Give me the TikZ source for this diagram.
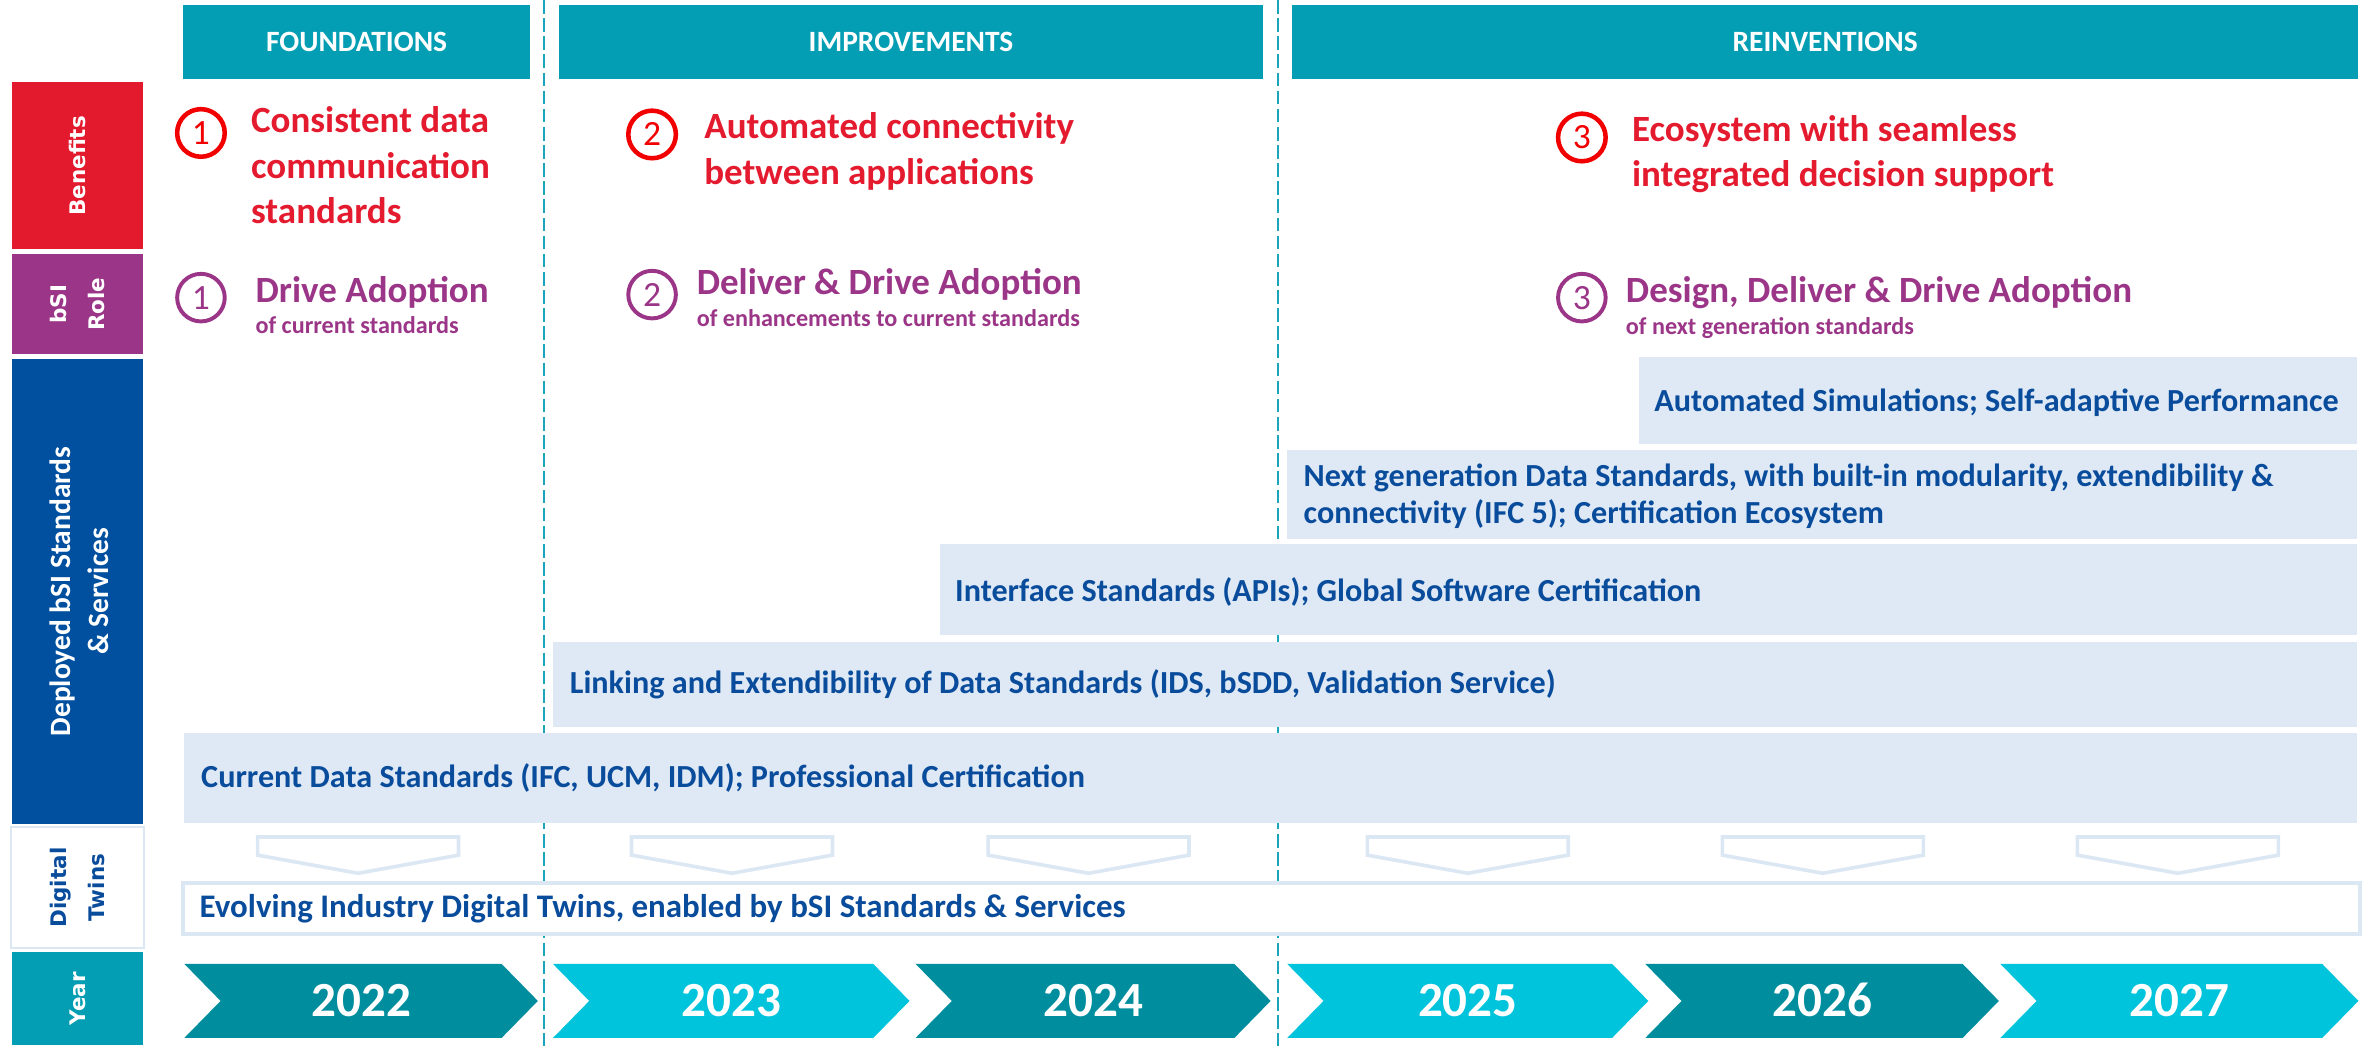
\documentclass[tikz,border=0pt]{standalone}
\usepackage{fontspec}
\setmainfont{Carlito}
\newfontfamily\dejavu{DejaVu Sans}
\definecolor{hdrteal}{HTML}{039EB3}
\definecolor{yeardark}{HTML}{008E9E}
\definecolor{yearlight}{HTML}{00C4DC}
\definecolor{redbox}{HTML}{E3192D}
\definecolor{redtxt}{HTML}{E41B2F}
\definecolor{circred}{HTML}{F20000}
\definecolor{purp}{HTML}{9B3587}
\definecolor{bluebox}{HTML}{00509F}
\definecolor{txtblue}{HTML}{0A4C9C}
\definecolor{barblue}{HTML}{DEE9F5}
\definecolor{dtline}{HTML}{DCE7F4}
\definecolor{dashc}{HTML}{1AA5BB}
\tikzset{
  hdr/.style={fill=hdrteal, text=white, inner sep=0pt, font=\bfseries\fontsize{19.5}{24}\selectfont},
  sidebox/.style={inner sep=0pt, draw=white, line width=0.8pt, minimum width=88pt},
  sidelbl/.style={rotate=90, inner sep=0pt, align=center, text=white, font=\dejavu\bfseries\fontsize{14.2}{25}\selectfont},
  barbox/.style={fill=barblue, inner sep=0pt},
  bartxt/.style={anchor=base west, inner sep=0pt, text=txtblue, font=\bfseries\fontsize{21.3}{24}\selectfont},
  bentxt/.style={anchor=base west, inner sep=0pt, text=redtxt, font=\bfseries\fontsize{24.5}{29}\selectfont},
  roletxt/.style={anchor=base west, inner sep=0pt, text=purp, font=\bfseries\fontsize{24.5}{29}\selectfont},
  rolesub/.style={anchor=base west, inner sep=0pt, text=purp, font=\bfseries\fontsize{16}{18}\selectfont},
  numcirc/.style={circle, inner sep=0pt, minimum size=31.5pt, font=\fontsize{23.5}{23.5}\selectfont},
  bencirc/.style={numcirc, draw=circred, text=circred, line width=3pt},
  rolecirc/.style={numcirc, draw=purp, text=purp, line width=2.6pt},
  dashln/.style={draw=dashc, line width=1pt, dash pattern=on 9pt off 3pt},
  dtchev/.style={draw=dtline, line width=2.4pt, line join=miter},
  yeartxt/.style={anchor=base, inner sep=0pt, text=white, font=\bfseries\fontsize{32.5}{32.5}\selectfont},
}
\newcommand{\ychevron}[5]{%
  \fill[#3] (#1,638) -- ({#2-24},638) -- (#2,662.5) -- ({#2-24},687) -- (#1,687) -- ({#1+24},662.5) -- cycle;
  \node[yeartxt] (#5) at ({(#1+#2)/2},672.8) {#4};}
\newcommand{\dtarrow}[2]{%
  \draw[dtchev] ({#1-66.5},554) -- ({#1+66.5},554) -- ({#1+66.5},566) -- (#1,578) -- ({#1-66.5},566) -- cycle;
  \coordinate (#2) at (#1,566);}
\begin{document}
\begin{tikzpicture}[x=1pt,y=-1pt]
\useasboundingbox (0,0) rectangle (1568,692);
% dashed phase separators
\coordinate (d1t) at (360,0); \coordinate (d1b) at (360,692);
\coordinate (d2t) at (846,0); \coordinate (d2b) at (846,692);
\draw[dashln] (d1t) -- (d1b);
\draw[dashln] (d2t) -- (d2b);
% headers
\node[hdr, minimum width=230pt, minimum height=48.5pt] (hf) at (236,27.75) {FOUNDATIONS};
\node[hdr, minimum width=466pt, minimum height=48.5pt] (hi) at (603,27.75) {IMPROVEMENTS};
\node[hdr, minimum width=706pt, minimum height=48.5pt] (hr) at (1208,27.75) {REINVENTIONS};
% left column
\node[sidebox, fill=redbox, minimum height=111.5pt] (lben) at (51.3,109.75) {};
\node[sidelbl] (lbent) at (lben) {Benefits};
\node[sidebox, fill=purp, minimum height=67.4pt] (lrole) at (51.3,201.3) {};
\node[sidelbl] (lrolet) at (lrole) {bSI\\Role};
\node[sidebox, fill=bluebox, minimum height=309pt] (ldep) at (51.3,391.5) {};
\node[sidelbl, font=\bfseries\fontsize{19.5}{25}\selectfont] (ldept) at (52.3,391.5) {Deployed bSI Standards\\\& Services};
\node[sidebox, fill=white, draw=dtline, line width=1.5pt, minimum height=80pt] (ldt) at (51.3,587.5) {};
\node[sidelbl, text=txtblue] (ldtt) at (ldt) {Digital\\Twins};
\node[sidebox, fill=hdrteal, minimum height=62.6pt] (lyr) at (51.3,661) {};
\node[sidelbl] (lyrt) at (lyr) {Year};
% benefits
\node[bencirc] (b1) at (133,88) {1};
\node[bentxt] (b1a) at (166,88) {Consistent data};
\node[bentxt] (b1b) at (166,118) {communication};
\node[bentxt] (b1c) at (166,148) {standards};
\node[bencirc] (b2) at (431.6,89) {2};
\node[bentxt] (b2a) at (466,91.5) {Automated connectivity};
\node[bentxt] (b2b) at (466,122) {between applications};
\node[bencirc] (b3) at (1047,91) {3};
\node[bentxt] (b3a) at (1080,93.4) {Ecosystem with seamless};
\node[bentxt] (b3b) at (1080,123.4) {integrated decision support};
% bSI role
\node[rolecirc] (r1) at (133,197) {1};
\node[roletxt] (r1a) at (169,200) {Drive Adoption};
\node[rolesub] (r1b) at (169,220.6) {of current standards};
\node[rolecirc] (r2) at (431.6,195) {2};
\node[roletxt] (r2a) at (461,195) {Deliver \& Drive Adoption};
\node[rolesub] (r2b) at (461,216) {of enhancements to current standards};
\node[rolecirc] (r3) at (1047,197) {3};
\node[roletxt] (r3a) at (1076,200) {Design, Deliver \& Drive Adoption};
\node[rolesub] (r3b) at (1076,221.7) {of next generation standards};
% deployed standards bars
\node[barbox, minimum width=475pt, minimum height=58pt] (sauto) at (1322.5,265) {};
\node[bartxt, anchor=base] (sautot) at (1321.5,272.6) {Automated Simulations; Self-adaptive Performance};
\node[barbox, minimum width=708pt, minimum height=59pt] (snext) at (1206,327.5) {};
\node[bartxt] (snextt1) at (862.7,322) {Next generation Data Standards, with built-in modularity, extendibility \&};
\node[bartxt] (snextt2) at (862.7,346.5) {connectivity (IFC 5); Certification Ecosystem};
\node[barbox, minimum width=938pt, minimum height=60pt] (sint) at (1091,390) {};
\node[bartxt] (sintt) at (632,398) {Interface Standards (APIs); Global Software Certification};
\node[barbox, minimum width=1194pt, minimum height=56pt] (slink) at (963,453) {};
\node[bartxt] (slinkt) at (377,459) {Linking and Extendibility of Data Standards (IDS, bSDD, Validation Service)};
\node[barbox, minimum width=1438pt, minimum height=60pt] (scur) at (841,515) {};
\node[bartxt] (scurt) at (133,521.5) {Current Data Standards (IFC, UCM, IDM); Professional Certification};
% digital twins
\dtarrow{237}{a1}
\dtarrow{484.5}{a2}
\dtarrow{720.5}{a3}
\dtarrow{971.5}{a4}
\dtarrow{1206.5}{a5}
\dtarrow{1441.5}{a6}
\node[draw=dtline, line width=2.6pt, fill=white, inner sep=0pt, minimum width=1441pt, minimum height=34pt] (dtbar) at (841.5,601.5) {};
\node[bartxt, font=\bfseries\fontsize{21.8}{24}\selectfont] (dtbart) at (132,607.5) {Evolving Industry Digital Twins, enabled by bSI Standards \& Services};
% years
\ychevron{122}{356}{yeardark}{2022}{y22}
\ychevron{366}{602}{yearlight}{2023}{y23}
\ychevron{606}{841}{yeardark}{2024}{y24}
\ychevron{852}{1091}{yearlight}{2025}{y25}
\ychevron{1089}{1323}{yeardark}{2026}{y26}
\ychevron{1324}{1561}{yearlight}{2027}{y27}
\end{tikzpicture}
\end{document}
